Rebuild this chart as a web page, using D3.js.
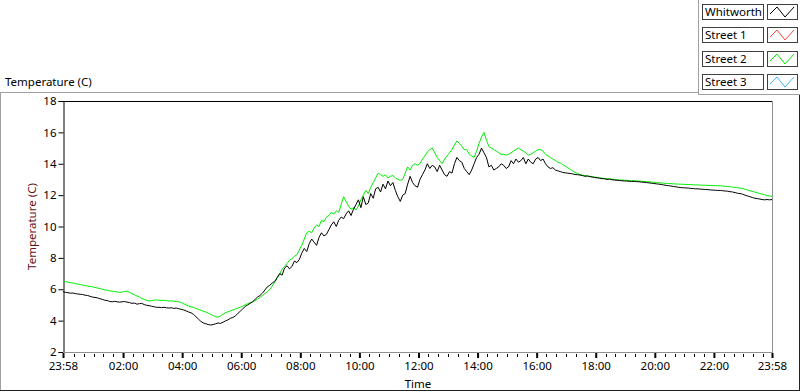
<!DOCTYPE html>
<html>
<head>
<meta charset="utf-8">
<script src="https://cdn.jsdelivr.net/npm/d3@7"></script>
<style>
  body { margin: 0; background: #fff; }
  text { font-family: "Noto Sans", "Liberation Sans", sans-serif; }
</style>
</head>
<body>
<svg id="chart" width="800" height="392"></svg>
<script>
// series names + colours
var seriesNames = ["Whitworth", "Street 1", "Street 2", "Street 3"];
var seriesColors = ["#000000", "#ff4040", "#00ee00", "#3fb4ff"];

// readings every 5 minutes starting 23:58 (289 values = 24h)
var whitworth = [
  5.85, 5.8, 5.78, 5.75, 5.76, 5.72, 5.7, 5.68, 5.66, 5.62, 5.6, 5.55,
  5.5, 5.48, 5.45, 5.4, 5.35, 5.3, 5.28, 5.22, 5.2, 5.23, 5.2, 5.18,
  5.2, 5.22, 5.18, 5.15, 5.1, 5.12, 5.05, 5.08, 5.1, 5.02, 4.98, 4.95,
  4.92, 4.88, 4.85, 4.85, 4.83, 4.85, 4.82, 4.8, 4.82, 4.78, 4.8, 4.76,
  4.72, 4.68, 4.62, 4.55, 4.5, 4.4, 4.25, 4.1, 3.95, 3.85, 3.8, 3.75,
  3.72, 3.75, 3.8, 3.85, 3.82, 3.9, 3.98, 4.05, 4.15, 4.2, 4.3, 4.45,
  4.6, 4.75, 4.9, 5.0, 5.1, 5.2, 5.35, 5.5, 5.6, 5.75, 5.95, 6.15,
  6.25, 6.4, 6.5, 6.75, 7.0, 6.9, 7.35, 7.5, 7.3, 7.45, 7.8, 7.7,
  7.9, 8.3, 8.6, 8.4, 8.9, 9.2, 9.0, 8.8, 9.3, 9.6, 9.4, 9.5,
  9.8, 10.1, 10.3, 10.0, 10.4, 10.6, 10.5, 10.8, 11.0, 10.7, 11.1, 11.4,
  11.7, 11.2, 11.9, 11.4, 11.5, 12.1, 11.8, 12.4, 12.5, 12.2, 12.7, 12.4,
  12.9, 12.6, 12.8, 12.3, 11.9, 11.6, 12.0, 12.1, 12.7, 13.2, 12.8, 12.6,
  12.5, 13.0, 13.3, 13.6, 14.0, 13.7, 13.9, 13.8, 13.5, 13.9, 13.6, 13.3,
  13.2, 13.5, 13.4, 14.0, 14.4, 14.2, 14.1, 13.7, 13.5, 13.3, 13.6, 14.0,
  14.4, 14.6, 15.0, 14.7, 14.4, 13.8, 13.9, 13.6, 13.7, 13.8, 14.0, 13.9,
  13.7, 13.8, 14.2, 14.0, 14.3, 14.1, 14.2, 14.4, 14.0, 14.3, 14.1, 14.0,
  14.3, 14.4, 14.2, 14.3, 14.0, 13.8, 13.7, 13.75, 13.6, 13.55, 13.5, 13.45,
  13.42, 13.4, 13.38, 13.35, 13.32, 13.3, 13.28, 13.25, 13.2, 13.22, 13.18, 13.15,
  13.12, 13.1, 13.08, 13.05, 13.04, 13.0, 13.02, 12.98, 12.96, 12.95, 12.93, 12.92,
  12.9, 12.9, 12.88, 12.87, 12.88, 12.86, 12.85, 12.83, 12.82, 12.8, 12.78, 12.76,
  12.74, 12.72, 12.7, 12.68, 12.65, 12.62, 12.6, 12.58, 12.55, 12.53, 12.5, 12.48,
  12.47, 12.46, 12.45, 12.43, 12.42, 12.4, 12.4, 12.38, 12.37, 12.36, 12.35, 12.33,
  12.32, 12.31, 12.3, 12.3, 12.28, 12.26, 12.25, 12.22, 12.2, 12.16, 12.12, 12.1,
  12.06, 12.0, 11.95, 11.9, 11.85, 11.8, 11.78, 11.75, 11.72, 11.7, 11.72, 11.7,
  11.72
];
var street1 = []; // no readings shown
var street2 = [
  6.5, 6.48, 6.45, 6.42, 6.4, 6.36, 6.33, 6.3, 6.27, 6.24, 6.2, 6.18,
  6.15, 6.12, 6.08, 6.04, 6.0, 5.96, 5.93, 5.9, 5.88, 5.85, 5.83, 5.8,
  5.82, 5.86, 5.88, 5.8, 5.72, 5.65, 5.58, 5.5, 5.42, 5.35, 5.3, 5.25,
  5.28, 5.3, 5.32, 5.3, 5.28, 5.3, 5.27, 5.25, 5.26, 5.24, 5.22, 5.2,
  5.15, 5.08, 5.0, 4.94, 4.88, 4.84, 4.78, 4.72, 4.66, 4.6, 4.55, 4.48,
  4.4, 4.32, 4.25, 4.22, 4.3, 4.4, 4.5, 4.56, 4.62, 4.68, 4.74, 4.8,
  4.86, 4.92, 5.0, 5.08, 5.14, 5.2, 5.28, 5.36, 5.48, 5.6, 5.72, 5.85,
  6.0, 6.2, 6.45, 6.7, 6.95, 7.3, 7.45, 7.65, 7.85, 7.95, 8.1, 8.2,
  8.5, 8.8, 9.2, 9.6, 9.7, 9.6, 9.9, 10.1, 10.0, 10.4, 10.3, 10.6,
  10.7, 10.9, 10.8, 11.0, 10.9, 11.4, 11.9, 11.6, 11.3, 11.1, 11.2, 11.05,
  11.3, 11.7, 12.0, 12.3, 12.1, 12.5, 12.8, 13.1, 13.4, 13.3, 13.2, 13.3,
  13.1, 13.2, 13.25, 13.1, 13.0, 12.95, 13.0, 13.4, 13.8, 13.6, 13.9, 14.0,
  13.9, 14.0, 14.3, 14.5, 14.75, 14.9, 15.0, 14.7, 14.4, 14.2, 14.0, 14.3,
  14.5, 14.7, 14.9, 15.2, 15.45, 15.3, 15.1, 14.9, 14.9, 14.6, 14.5, 14.4,
  14.8, 15.3, 15.7, 16.0, 15.5, 15.1, 15.0, 14.9, 14.8, 14.7, 14.6, 14.6,
  14.55, 14.6, 14.7, 14.8, 14.9, 15.0, 14.9, 14.8, 14.7, 14.55, 14.6, 14.7,
  14.8, 14.9, 14.9, 14.8, 14.6, 14.5, 14.4, 14.3, 14.2, 14.1, 14.05, 13.95,
  13.85, 13.75, 13.65, 13.55, 13.45, 13.38, 13.3, 13.28, 13.25, 13.22, 13.2, 13.18,
  13.15, 13.12, 13.1, 13.08, 13.06, 13.05, 13.03, 13.02, 13.0, 12.98, 12.97, 12.96,
  12.95, 12.94, 12.93, 12.92, 12.92, 12.91, 12.9, 12.88, 12.87, 12.86, 12.85, 12.83,
  12.82, 12.8, 12.79, 12.78, 12.76, 12.75, 12.74, 12.73, 12.72, 12.71, 12.7, 12.7,
  12.69, 12.68, 12.68, 12.67, 12.66, 12.65, 12.65, 12.64, 12.63, 12.63, 12.62, 12.62,
  12.61, 12.6, 12.6, 12.6, 12.58, 12.56, 12.55, 12.53, 12.51, 12.49, 12.47, 12.45,
  12.42, 12.38, 12.33, 12.28, 12.24, 12.2, 12.15, 12.1, 12.06, 12.02, 11.98, 11.95,
  11.92
];
var street3 = []; // no readings shown
var sampleStep = 5; // minutes

// x axis: minutes after 23:58
var xTickMinutes = [0, 122, 242, 362, 482, 602, 722, 842, 962, 1082, 1202, 1322, 1440];
var xTickLabels = ["23:58", "02:00", "04:00", "06:00", "08:00", "10:00", "12:00",
                   "14:00", "16:00", "18:00", "20:00", "22:00", "23:58"];
var yTicks = [2, 4, 6, 8, 10, 12, 14, 16, 18];

var svg = d3.select("#chart");
// NB: "top" is taken by window.top, so use plot* names
var plotLeft = 63, plotTop = 101, plotRight = 772, plotBottom = 352;

var xScale = d3.scaleLinear().domain([0, 1440]).range([plotLeft, plotRight]);
var yScale = d3.scaleLinear().domain([2, 18]).range([plotBottom, plotTop]);

// outer panel frame
svg.append("line").attr("x1", 0).attr("x2", 698).attr("y1", 92.5).attr("y2", 92.5)
  .attr("stroke", "#a0a0a0");
svg.append("line").attr("x1", 0.5).attr("x2", 0.5).attr("y1", 92).attr("y2", 391)
  .attr("stroke", "#a0a0a0");
svg.append("line").attr("x1", 0).attr("x2", 800).attr("y1", 390.5).attr("y2", 390.5)
  .attr("stroke", "#222");
svg.append("line").attr("x1", 799.5).attr("x2", 799.5).attr("y1", 95).attr("y2", 391)
  .attr("stroke", "#222");

// top-left caption
svg.append("text").attr("x", 5).attr("y", 86)
  .attr("font-size", "11.5px").attr("fill", "#000")
  .text("Temperature (C)");

// plot frame: dark top/left, grey bottom/right
svg.append("line").attr("x1", plotLeft).attr("x2", plotRight + 0.5)
  .attr("y1", plotTop + 0.5).attr("y2", plotTop + 0.5)
  .attr("stroke", "#000");
svg.append("line").attr("x1", plotRight + 0.5).attr("x2", plotRight + 0.5)
  .attr("y1", plotTop).attr("y2", plotBottom + 1)
  .attr("stroke", "#909090");

// y axis
var yAxis = svg.append("g").attr("transform", "translate(" + (plotLeft + 0.5) + ",0)")
  .call(d3.axisLeft(yScale).tickValues(yTicks).tickSize(5).tickPadding(2)
    .tickFormat(function(d) { return d; }));
yAxis.select(".domain").attr("stroke", "#000");
yAxis.selectAll(".tick line").attr("stroke", "#000");
yAxis.selectAll("text").attr("font-size", "11.5px").attr("fill", "#000")
  .attr("font-family", "'Noto Sans', sans-serif");

// x axis baseline (grey)
svg.append("line").attr("x1", plotLeft).attr("x2", plotRight + 1)
  .attr("y1", plotBottom + 0.5).attr("y2", plotBottom + 0.5)
  .attr("stroke", "#909090");

// minor ticks every 20 minutes on the clock
var minorTicks = d3.range(22, 1440, 20).filter(function(m) {
  return xTickMinutes.indexOf(m) < 0;
});
svg.append("g").selectAll("line").data(minorTicks).enter().append("line")
  .attr("x1", function(d) { return Math.round(xScale(d)) + 0.5; })
  .attr("x2", function(d) { return Math.round(xScale(d)) + 0.5; })
  .attr("y1", plotBottom + 2).attr("y2", plotBottom + 5)
  .attr("stroke", "#000");

var xAxis = svg.append("g").attr("transform", "translate(0," + (plotBottom + 1) + ")")
  .call(d3.axisBottom(xScale).tickValues(xTickMinutes).tickSize(5).tickPadding(4)
    .tickFormat(function(d, i) { return xTickLabels[i]; }));
xAxis.select(".domain").remove();
xAxis.selectAll(".tick line").attr("stroke", "#000").attr("stroke-width", 2);
xAxis.selectAll("text").attr("font-size", "11.5px").attr("fill", "#000")
  .attr("font-family", "'Noto Sans', sans-serif");

// axis titles
svg.append("text").attr("x", 418).attr("y", 388).attr("text-anchor", "middle")
  .attr("font-size", "11.5px").attr("fill", "#000").text("Time");
svg.append("text")
  .attr("transform", "translate(36," + ((plotTop + plotBottom) / 2) + ") rotate(-90)")
  .attr("text-anchor", "middle").attr("font-size", "11.5px").attr("fill", "#6a1010")
  .text("Temperature (C)");

// lines
var line = d3.line()
  .x(function(d, i) { return xScale(i * sampleStep); })
  .y(function(d) { return yScale(d); });

var allSeries = [whitworth, street1, street2, street3];
var drawOrder = [2, 0, 1, 3];
drawOrder.forEach(function(k) {
  if (allSeries[k].length == 0) return;
  svg.append("path").datum(allSeries[k])
    .attr("fill", "none")
    .attr("stroke", seriesColors[k])
    .attr("stroke-width", 1)
    .attr("d", line);
});

// legend panel
svg.append("line").attr("x1", 698.5).attr("x2", 698.5).attr("y1", 0).attr("y2", 95)
  .attr("stroke", "#a0a0a0");
svg.append("line").attr("x1", 698).attr("x2", 800).attr("y1", 94.5).attr("y2", 94.5)
  .attr("stroke", "#a0a0a0");

var legend = svg.append("g").selectAll("g").data(seriesNames).enter().append("g")
  .attr("transform", function(d, i) { return "translate(702," + Math.round(4 + i * 23.3) + ")"; });

legend.append("rect").attr("x", 0.5).attr("y", 0.5).attr("width", 61).attr("height", 15)
  .attr("fill", "#fff").attr("stroke", "#404040");
legend.append("text").attr("x", 3).attr("y", 12)
  .attr("font-size", "11.5px").attr("fill", "#000")
  .text(function(d) { return d; });
legend.append("rect").attr("x", 65.5).attr("y", 0.5).attr("width", 30).attr("height", 15)
  .attr("fill", "#fff").attr("stroke", "#404040");
legend.append("path")
  .attr("d", "M68,10 L75,3 L83,13 L92,3")
  .attr("fill", "none")
  .attr("stroke", function(d, i) { return seriesColors[i]; });
</script>
</body>
</html>
